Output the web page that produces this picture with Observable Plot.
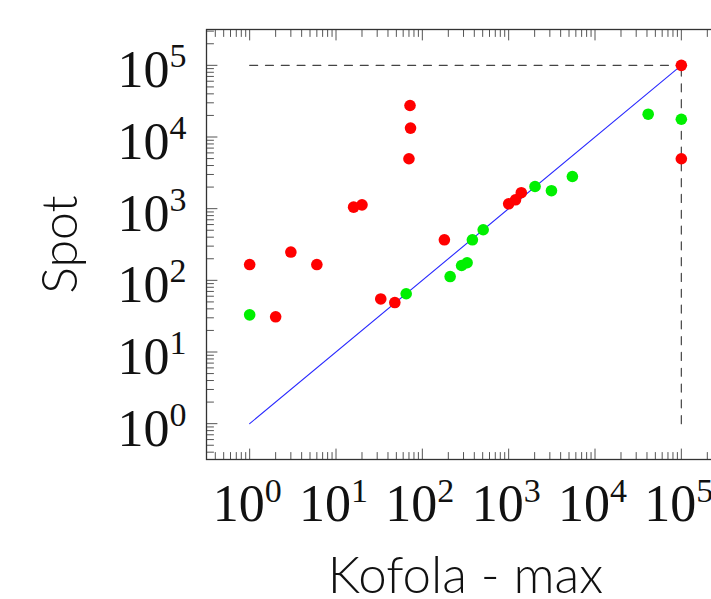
<!DOCTYPE html>
<html><head><meta charset="utf-8">
<script src="https://cdn.jsdelivr.net/npm/d3@7"></script>
<script src="https://cdn.jsdelivr.net/npm/@observablehq/plot@0.6"></script>
<style>html,body{margin:0;padding:0;overflow:hidden;background:#fff} #chart{width:711px;height:599px;overflow:hidden}</style>
</head><body><div id="chart"></div>
<script>
// Data
const redKofola   = [1, 2, 3, 6, 16, 20, 33, 48, 70, 73, 72, 180, 1000, 1200, 1400, 100000, 100000];
const redSpot     = [166, 31, 248, 166, 1050, 1130, 55, 49, 4970, 13300, 27500, 368, 1170, 1330, 1670, 100000, 4970];
const greenKofola = [1, 65, 210, 285, 330, 380, 507, 2020, 3130, 5470, 41300, 100000];
const greenSpot   = [33, 65, 113, 161, 176, 368, 508, 2040, 1780, 2810, 20800, 17700];
const diagKofola  = [1, 100000];
const diagSpot    = [1, 100000];
const boundKofola = [1, 100000, 100000, 100000];
const boundSpot   = [100000, 100000, 1, 100000];
const boundSeg    = ["h", "h", "v", "v"];
const majorTicks  = [1, 10, 100, 1000, 10000, 100000];
const tickBase    = ["10", "10", "10", "10", "10", "10"];
const tickExp     = ["0", "1", "2", "3", "4", "5"];
const decades     = [0.1, 1, 10, 100, 1000, 10000, 100000];
const multipliers = [2, 3, 4, 5, 6, 7, 8, 9];
const xLabel = "Kofola - max";
const yLabel = "Spot";

const domain = [Math.pow(10, -0.5), Math.pow(10, 5.5)];
const minorTicks = decades.flatMap(p => multipliers.map(m => m * p)).filter(v => v > domain[0] && v < domain[1]);

const red = redKofola.map((k, i) => ({kofola: k, spot: redSpot[i]}));
const green = greenKofola.map((k, i) => ({kofola: k, spot: greenSpot[i]}));
const diag = diagKofola.map((k, i) => ({kofola: k, spot: diagSpot[i]}));
const bound = boundKofola.map((k, i) => ({kofola: k, spot: boundSpot[i], seg: boundSeg[i]}));

const tickColor = "#555";
const shapeUp    = {draw(c, l) { c.moveTo(0, 0); c.lineTo(0, -l); }};
const shapeDown  = {draw(c, l) { c.moveTo(0, 0); c.lineTo(0, l); }};
const shapeRight = {draw(c, l) { c.moveTo(0, 0); c.lineTo(l, 0); }};
const shapeLeft  = {draw(c, l) { c.moveTo(0, 0); c.lineTo(-l, 0); }};

function ticksX(values, len) {
  return [
    Plot.vector(values, {x: d => d, frameAnchor: "bottom", length: len, anchor: "start", shape: shapeUp, stroke: tickColor, strokeWidth: 1}),
    Plot.vector(values, {x: d => d, frameAnchor: "top", length: len, anchor: "start", shape: shapeDown, stroke: tickColor, strokeWidth: 1})
  ];
}
function ticksY(values, len) {
  return [
    Plot.vector(values, {y: d => d, frameAnchor: "left", length: len, anchor: "start", shape: shapeRight, stroke: tickColor, strokeWidth: 1}),
    Plot.vector(values, {y: d => d, frameAnchor: "right", length: len, anchor: "start", shape: shapeLeft, stroke: tickColor, strokeWidth: 1})
  ];
}

const serif = "Liberation Serif, Times New Roman, serif";
const sans = "Lato, Open Sans, sans-serif";

const chart = Plot.plot({
  width: 711,
  height: 599,
  marginLeft: 206,
  marginRight: -13,
  marginTop: 29,
  marginBottom: 140,
  style: {background: "white", overflow: "hidden"},
  x: {type: "log", domain, axis: null, label: null},
  y: {type: "log", domain, axis: null, label: null},
  marks: [
    ...ticksX(minorTicks, 7),
    ...ticksX(majorTicks, 10.5),
    ...ticksY(minorTicks, 7),
    ...ticksY(majorTicks, 10.5),
    Plot.frame({stroke: "#333", strokeWidth: 1.3}),
    Plot.line(bound, {x: "kofola", y: "spot", z: "seg", stroke: "#444", strokeWidth: 1.2, strokeDasharray: "8,7.8"}),
    Plot.line(diag, {x: "kofola", y: "spot", stroke: "#2a2aff", strokeWidth: 1.1}),
    Plot.dot(red, {x: "kofola", y: "spot", r: 5.8, fill: "#ff0000"}),
    Plot.dot(green, {x: "kofola", y: "spot", r: 5.8, fill: "#00f000"}),
    // x tick labels 10^k
    Plot.text(majorTicks, {x: d => d, text: (d, i) => tickBase[i], frameAnchor: "bottom", dx: 15, dy: 61, lineAnchor: "bottom", textAnchor: "end", fontSize: 52, fontFamily: serif, fill: "#111"}),
    Plot.text(majorTicks, {x: d => d, text: (d, i) => tickExp[i], frameAnchor: "bottom", dx: 15, dy: 42, lineAnchor: "bottom", textAnchor: "start", fontSize: 34, fontFamily: serif, fill: "#111"}),
    // y tick labels 10^k
    Plot.text(majorTicks, {y: d => d, text: (d, i) => tickBase[i], frameAnchor: "left", dx: -37, dy: 22, lineAnchor: "bottom", textAnchor: "end", fontSize: 52, fontFamily: serif, fill: "#111"}),
    Plot.text(majorTicks, {y: d => d, text: (d, i) => tickExp[i], frameAnchor: "left", dx: -37, dy: 2, lineAnchor: "bottom", textAnchor: "start", fontSize: 34, fontFamily: serif, fill: "#111"}),
    // axis titles
    Plot.text([xLabel], {text: d => d, frameAnchor: "bottom", dy: 133, lineAnchor: "bottom", textAnchor: "middle", fontSize: 51, fontFamily: sans, fontWeight: 300, fill: "#111"}),
    Plot.text([yLabel], {text: d => d, frameAnchor: "left", dx: -130, rotate: -90, lineAnchor: "bottom", textAnchor: "middle", fontSize: 50, fontFamily: sans, fontWeight: 300, fill: "#111"})
  ]
});
document.getElementById("chart").appendChild(chart);
</script>
</body></html>
